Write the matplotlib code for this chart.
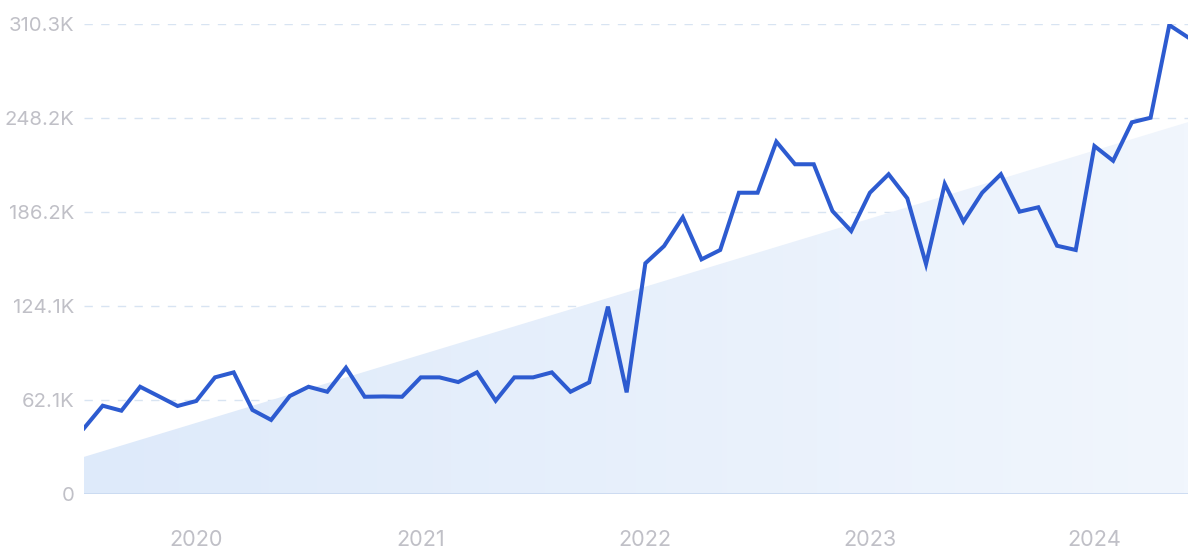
import numpy as np
import matplotlib
matplotlib.use("Agg")
import matplotlib.pyplot as plt
from matplotlib.patches import Polygon

# ---- data (monthly, Jul 2019 .. Jun 2024) ----
values = [
    43.4, 58.3, 55.0, 70.8, 64.5, 58.1,            # 2019 Jul-Dec
    61.4, 77.0, 80.3, 55.5, 48.9, 64.7,            # 2020 Jan-Jun
    70.8, 67.5, 83.4, 64.2, 64.4, 64.2,            # 2020 Jul-Dec
    77.0, 77.0, 73.9, 80.3, 61.6, 77.0,            # 2021 Jan-Jun
    77.0, 80.3, 67.5, 73.7, 123.7, 67.1,           # 2021 Jul-Dec
    152.3, 163.7, 182.7, 154.9, 161.1, 198.9,      # 2022 Jan-Jun
    198.9, 232.6, 217.7, 217.7, 186.8, 173.6,      # 2022 Jul-Dec
    198.9, 211.1, 195.2, 151.8, 204.7, 179.8,      # 2023 Jan-Jun
    198.9, 211.1, 186.4, 189.3, 163.9, 161.1,      # 2023 Jul-Dec
    229.7, 220.0, 245.4, 248.4, 309.6, 301.5,      # 2024 Jan-Jun
]
values = [v * 1000 for v in values]
trend_start = 24500
trend_end = 245500
year_labels = ["2020", "2021", "2022", "2023", "2024"]
year_tick_index = [6, 18, 30, 42, 54]
y_ticks = [0, 62100, 124100, 186200, 248200, 310300]
y_tick_labels = ["0", "62.1K", "124.1K", "186.2K", "248.2K", "310.3K"]

plt.rcParams['font.family'] = ['Inter', 'DejaVu Sans']

fig = plt.figure(figsize=(12, 5.59), dpi=100)
ax = fig.add_axes([84/1200, 65/559, 1104/1200, 470/559])

x = np.arange(len(values))
n = len(values)

# gradient-filled trend area
poly = Polygon([[0, 0], [0, trend_start], [n - 1, trend_end], [n - 1, 0]],
               closed=True, facecolor='none', edgecolor='none')
ax.add_patch(poly)
c1 = np.array([222, 234, 250]) / 255
c2 = np.array([241, 246, 253]) / 255
grad = np.linspace(0, 1, 256)
img = c1[None, None, :] * (1 - grad[None, :, None]) + c2[None, None, :] * grad[None, :, None]
im = ax.imshow(img, extent=[0, n - 1, 0, 310300], aspect='auto', origin='lower', zorder=1)
im.set_clip_path(poly)

# grid lines
for t in y_ticks[1:]:
    ax.axhline(t, color='#d8e4f2', lw=1.0, ls=(0, (6, 6)), zorder=0.5)
ax.axhline(0, color='#c8d8f0', lw=1.2, zorder=2)

ax.plot(x, values, color='#2d5bd0', lw=2.9, solid_joinstyle='miter', zorder=3)

ax.set_xlim(0, n - 1)
ax.set_ylim(0, 310300)
ax.set_yticks(y_ticks)
ax.set_yticklabels(y_tick_labels)
ax.set_xticks(year_tick_index)
ax.set_xticklabels(year_labels)
ax.tick_params(axis='y', length=0, pad=7, labelsize=14.6, labelcolor='#c0c0c7')
ax.tick_params(axis='x', length=0, pad=26, labelsize=15.6, labelcolor='#c0c0c7')
for s in ax.spines.values():
    s.set_visible(False)

fig.savefig("out.png", dpi=100, facecolor='white')
